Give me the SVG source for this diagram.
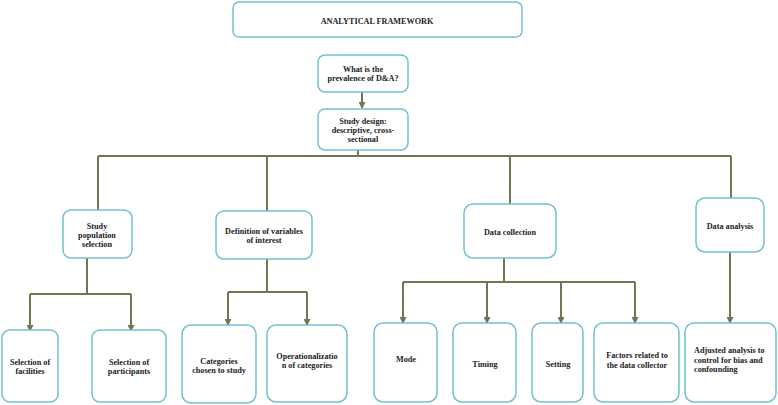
<svg xmlns="http://www.w3.org/2000/svg" width="778" height="405" viewBox="0 0 778 405">
<style>
.box{fill:#fff;stroke:#72c0d1;stroke-width:1.5}
.t{font-family:"Liberation Serif","DejaVu Serif",serif;font-weight:bold;font-size:8.2px;fill:#222;text-anchor:middle}
.c{fill:none;stroke:#6f7650;stroke-width:2}
</style>
<defs>
<marker id="a" markerWidth="7" markerHeight="7" refX="6" refY="3.5" orient="auto" markerUnits="userSpaceOnUse" viewBox="0 0 7 7">
<path d="M0,0 L7,3.5 L0,7 Z" fill="#6f7650"/>
</marker>
</defs>
<g id="connectors">
<path class="c" d="M362,92 V108" marker-end="url(#a)"/>
<path class="c" d="M358,150 V156 M98,156 H731 M98,156 V210 M267,156 V211 M510,156 V204 M731,156 V198"/>
<path class="c" d="M87,258 V294 M30,294 H131"/>
<path class="c" d="M30,294 V331" marker-end="url(#a)"/>
<path class="c" d="M131,294 V331" marker-end="url(#a)"/>
<path class="c" d="M267,259 V292 M228,292 H307"/>
<path class="c" d="M228,292 V325" marker-end="url(#a)"/>
<path class="c" d="M307,292 V325" marker-end="url(#a)"/>
<path class="c" d="M504,258 V282 M403,282 H635"/>
<path class="c" d="M403,282 V323" marker-end="url(#a)"/>
<path class="c" d="M487,282 V323" marker-end="url(#a)"/>
<path class="c" d="M561,282 V323" marker-end="url(#a)"/>
<path class="c" d="M635,282 V323" marker-end="url(#a)"/>
<path class="c" d="M730,252 V323" marker-end="url(#a)"/>
</g>
<g id="title"><rect class="box" x="233" y="2" width="289" height="35" rx="6"/><text class="t" x="377" y="24">ANALYTICAL FRAMEWORK</text></g>
<g id="question"><rect class="box" x="318" y="55" width="90" height="37" rx="7"/><text class="t" x="363" y="72">What is the</text><text class="t" x="363" y="81">prevalence of D&amp;A?</text></g>
<g id="design"><rect class="box" x="318" y="109" width="90" height="41" rx="7"/><text class="t" x="363" y="124">Study design:</text><text class="t" x="363" y="133">descriptive, cross-</text><text class="t" x="363" y="142">sectional</text></g>
<g id="population"><rect class="box" x="63" y="210" width="69" height="48" rx="8"/><text class="t" x="97" y="229">Study</text><text class="t" x="97" y="238">population</text><text class="t" x="97" y="247">selection</text></g>
<g id="definition"><rect class="box" x="216" y="211" width="96" height="48" rx="8"/><text class="t" x="264" y="234">Definition of variables</text><text class="t" x="264" y="243">of interest</text></g>
<g id="collection"><rect class="box" x="464" y="204" width="92" height="54" rx="9"/><text class="t" x="510" y="235">Data collection</text></g>
<g id="analysis"><rect class="box" x="696" y="198" width="68" height="54" rx="9"/><text class="t" x="730" y="229">Data analysis</text></g>
<g id="facilities"><rect class="box" x="2" y="330" width="56" height="72" rx="8"/><text class="t" x="30" y="365">Selection of</text><text class="t" x="30" y="374">facilities</text></g>
<g id="participants"><rect class="box" x="92" y="330" width="74" height="72" rx="8"/><text class="t" x="129" y="365">Selection of</text><text class="t" x="129" y="374">participants</text></g>
<g id="categories"><rect class="box" x="182" y="325" width="74" height="78" rx="9"/><text class="t" x="219" y="364">Categories</text><text class="t" x="219" y="373">chosen to study</text></g>
<g id="operationalization"><rect class="box" x="267" y="325" width="80" height="77" rx="9"/><text class="t" x="307" y="359">Operationalizatio</text><text class="t" x="307" y="368">n of categories</text></g>
<g id="mode"><rect class="box" x="374" y="323" width="63" height="79" rx="9"/><text class="t" x="406" y="362">Mode</text></g>
<g id="timing"><rect class="box" x="453" y="323" width="63" height="79" rx="9"/><text class="t" x="485" y="367">Timing</text></g>
<g id="setting"><rect class="box" x="532" y="323" width="51" height="79" rx="9"/><text class="t" x="558" y="367">Setting</text></g>
<g id="factors"><rect class="box" x="594" y="323" width="85" height="79" rx="9"/><text class="t" x="637" y="358">Factors related to</text><text class="t" x="637" y="368">the data collector</text></g>
<g id="adjusted"><rect class="box" x="685" y="323" width="91" height="79" rx="9"/><text class="t" x="694" y="353" style="text-anchor:start">Adjusted analysis to</text><text class="t" x="694" y="363" style="text-anchor:start">control for bias and</text><text class="t" x="694" y="372" style="text-anchor:start">confounding</text></g>
</svg>
